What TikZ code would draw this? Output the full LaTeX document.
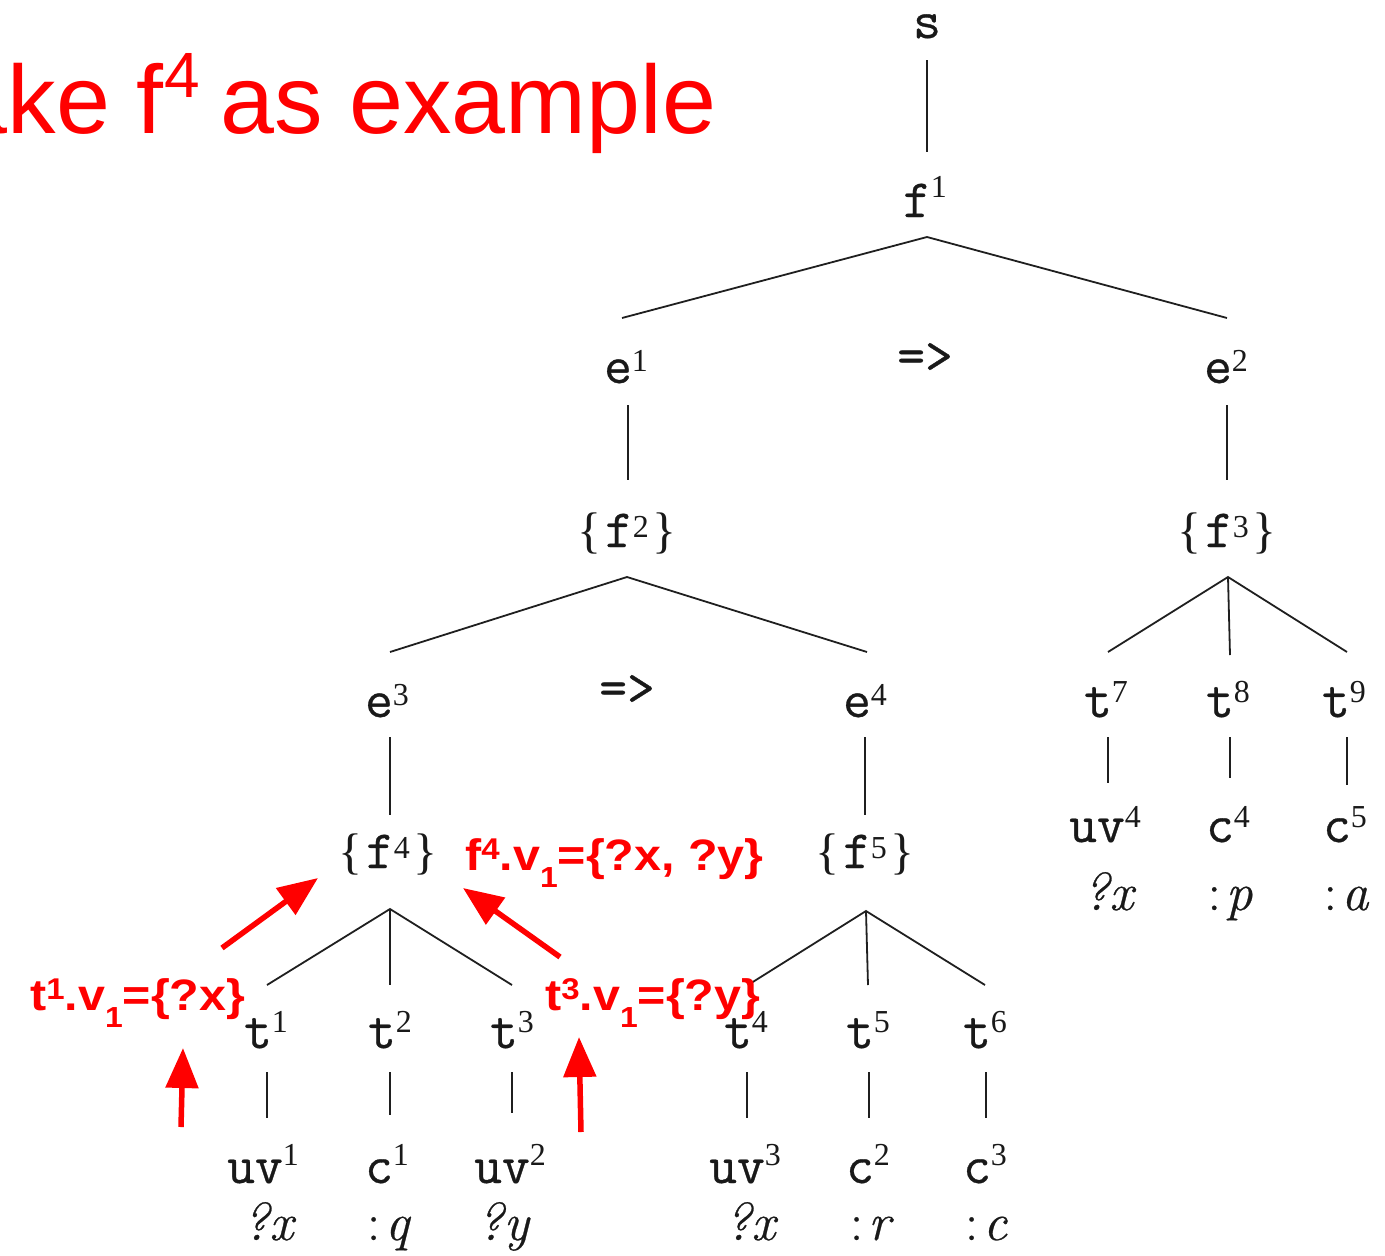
\documentclass[tikz,border=0pt]{standalone}
\usepackage{fontspec}
\usetikzlibrary{arrows.meta}
\newfontfamily\arialf{Liberation Sans}
\newfontfamily\tnrf{Liberation Serif}
\newfontfamily\ttbf[FakeBold=0.6]{Latin Modern Mono}
\newfontfamily\lmrf[FakeBold=0.5]{Latin Modern Roman}
\newcommand\supd[2][12pt]{\raisebox{#1}{\fontsize{32}{32}\selectfont\tnrf #2}}
\newcommand\tword[1]{{\fontsize{54}{54}\selectfont\ttbf #1}}
\newcommand\tlab[3][12pt]{\tword{#2}\supd[#1]{#3}}
\newcommand\setlab[2]{{\fontsize{50}{50}\selectfont\tnrf\{}\hspace{4pt}\tlab[10pt]{#1}{#2}\hspace{4pt}{\fontsize{50}{50}\selectfont\tnrf\}}}
\newcommand\vq[1]{{\fontsize{53}{53}\selectfont\lmrf\itshape #1}}
\newcommand\vc[1]{{\fontsize{53}{53}\selectfont\lmrf :\hspace{5pt}\itshape #1}}
\newcommand\rsup[1]{\raisebox{11pt}{\fontsize{30}{30}\selectfont #1}}
\newcommand\rsub[1]{\raisebox{-17pt}{\fontsize{29}{29}\selectfont #1}}
\begin{document}
\begin{tikzpicture}[x=1pt,y=-1pt,
  tn/.style={anchor=base, inner sep=0pt, text=black!90},
  ln/.style={line width=1.8pt, black!88},
  rl/.style={anchor=base west, inner sep=0pt, text=red, font=\arialf\bfseries\fontsize{44}{44}\selectfont},
  ttl/.style={inner sep=0pt, text=red, font=\arialf},
  ra/.style={red, line width=5.5pt, -{Triangle[length=40pt,width=32pt]}}]
\useasboundingbox (0,0) rectangle (1385,1256);
\clip (0,0) rectangle (1385,1256);
% title
\node[ttl, anchor=base east, font=\arialf\fontsize{97}{97}\selectfont] (tt1) at (164,133) {Take f};
\node[ttl, anchor=base west, font=\arialf\fontsize{64}{64}\selectfont] (tt2) at (164,97) {4};
\node[ttl, anchor=base west, font=\arialf\fontsize{97}{97}\selectfont] (tt3) at (220,133) {as example};
% tree nodes
\node[tn] (s) at (927,38) {\tword{s}};
\node[tn] (f1) at (925,217) {\tlab[20pt]{f}{1}};
\node[tn] (e1) at (626,383) {\tlab[12pt]{e}{1}};
\node[tn] (imp1) at (925,373) {\tword{=>}};
\node[tn] (e2) at (1226,383) {\tlab[12pt]{e}{2}};
\node[tn] (f2) at (627,547) {\setlab{f}{2}};
\node[tn] (f3) at (1227,547) {\setlab{f}{3}};
\node[tn] (e3) at (387,717) {\tlab[12pt]{e}{3}};
\node[tn] (imp2) at (627,705) {\tword{=>}};
\node[tn] (e4) at (865,717) {\tlab[12pt]{e}{4}};
\node[tn] (f4) at (388,868) {\setlab{f}{4}};
\node[tn] (f5) at (865,868) {\setlab{f}{5}};
\node[tn] (t7) at (1106,717) {\tlab[15pt]{t}{7}};
\node[tn] (t8) at (1228,717) {\tlab[15pt]{t}{8}};
\node[tn] (t9) at (1344,717) {\tlab[15pt]{t}{9}};
\node[tn] (uv4) at (1105,842) {\tlab[15pt]{uv}{4}};
\node[tn] (c4) at (1228,842) {\tlab[15pt]{c}{4}};
\node[tn] (c5) at (1345,842) {\tlab[15pt]{c}{5}};
\node[tn] (x4) at (1108,910) {\vq{?x}};
\node[tn] (p) at (1230,910) {\vc{p}};
\node[tn] (a) at (1346,910) {\vc{a}};
\node[tn] (t1) at (266,1048) {\tlab[16pt]{t}{1}};
\node[tn] (t2) at (390,1048) {\tlab[16pt]{t}{2}};
\node[tn] (t3) at (512,1048) {\tlab[16pt]{t}{3}};
\node[tn] (t4) at (746,1048) {\tlab[16pt]{t}{4}};
\node[tn] (t5) at (868,1048) {\tlab[16pt]{t}{5}};
\node[tn] (t6) at (985,1048) {\tlab[16pt]{t}{6}};
\node[tn] (uv1) at (263,1183) {\tlab[18pt]{uv}{1}};
\node[tn] (c1) at (387,1183) {\tlab[18pt]{c}{1}};
\node[tn] (uv2) at (510,1183) {\tlab[18pt]{uv}{2}};
\node[tn] (uv3) at (745,1183) {\tlab[18pt]{uv}{3}};
\node[tn] (c2) at (868,1183) {\tlab[18pt]{c}{2}};
\node[tn] (c3) at (985,1183) {\tlab[18pt]{c}{3}};
\node[tn] (x1) at (268,1240) {\vq{?x}};
\node[tn] (q) at (388,1240) {\vc{q}};
\node[tn] (y2) at (503,1240) {\vq{?y}};
\node[tn] (x3) at (750,1240) {\vq{?x}};
\node[tn] (r) at (870,1240) {\vc{r}};
\node[tn] (cc) at (986,1240) {\vc{c}};
% tree edges
\draw[ln] ([shift={(0,22)}]s.base) -- ([shift={(2,-65)}]f1.base);
\draw[ln] ([shift={(-4,-65)}]e1.base) -- ([shift={(2,20)}]f1.base) -- ([shift={(1,-65)}]e2.base);
\draw[ln] ([shift={(2,22)}]e1.base) -- ([shift={(1,-67)}]f2.base);
\draw[ln] ([shift={(1,22)}]e2.base) -- ([shift={(0,-67)}]f3.base);
\draw[ln] ([shift={(3,-65)}]e3.base) -- ([shift={(0,30)}]f2.base) -- ([shift={(2,-65)}]e4.base);
\draw[ln] ([shift={(3,20)}]e3.base) -- ([shift={(2,-53)}]f4.base);
\draw[ln] ([shift={(0,20)}]e4.base) -- ([shift={(0,-53)}]f5.base);
\draw[ln] ([shift={(2,-65)}]t7.base) -- ([shift={(1,30)}]f3.base) -- ([shift={(3,-65)}]t9.base);
\draw[ln] ([shift={(1,30)}]f3.base) -- ([shift={(2,-62)}]t8.base);
\draw[ln] ([shift={(2,20)}]t7.base) -- ([shift={(3,-59)}]uv4.base);
\draw[ln] ([shift={(2,20)}]t8.base) -- ([shift={(2,-64)}]c4.base);
\draw[ln] ([shift={(3,20)}]t9.base) -- ([shift={(2,-57)}]c5.base);
\draw[ln] ([shift={(1,-63)}]t1.base) -- ([shift={(2,41)}]f4.base) -- ([shift={(0,-63)}]t3.base);
\draw[ln] ([shift={(2,41)}]f4.base) -- ([shift={(0,-63)}]t2.base);
\draw[ln] ([shift={(2,-63)}]t4.base) -- ([shift={(1,43)}]f5.base) -- ([shift={(0,-63)}]t6.base);
\draw[ln] ([shift={(1,43)}]f5.base) -- ([shift={(0,-63)}]t5.base);
\draw[ln] ([shift={(1,24)}]t1.base) -- ([shift={(4,-65)}]uv1.base);
\draw[ln] ([shift={(0,24)}]t2.base) -- ([shift={(3,-68)}]c1.base);
\draw[ln] ([shift={(0,24)}]t3.base) -- ([shift={(2,-70)}]uv2.base);
\draw[ln] ([shift={(1,24)}]t4.base) -- ([shift={(2,-65)}]uv3.base);
\draw[ln] ([shift={(1,24)}]t5.base) -- ([shift={(1,-65)}]c2.base);
\draw[ln] ([shift={(1,24)}]t6.base) -- ([shift={(1,-65)}]c3.base);
% red annotations
\node[rl] (L1) at (30,1010) {\scalebox{1.1}[1]{t\rsup{1}.v\rsub{1}=\{?x\}}};
\node[rl] (L2) at (545,1010) {\scalebox{1.1}[1]{t\rsup{3}.v\rsub{1}=\{?y\}}};
\node[rl] (L3) at (465,870) {\scalebox{1.1}[1]{f\rsup{4}.v\rsub{1}=\{?x, ?y\}}};
\coordinate (a1s) at (222,948); \coordinate (a1e) at (318,878);
\coordinate (a2s) at (560,957); \coordinate (a2e) at (463,888);
\coordinate (a3s) at (181,1127); \coordinate (a3e) at (183,1048);
\coordinate (a4s) at (581,1132); \coordinate (a4e) at (579,1037);
\draw[ra] (a1s) -- (a1e);
\draw[ra] (a2s) -- (a2e);
\draw[ra] (a3s) -- (a3e);
\draw[ra] (a4s) -- (a4e);
\end{tikzpicture}
\end{document}
